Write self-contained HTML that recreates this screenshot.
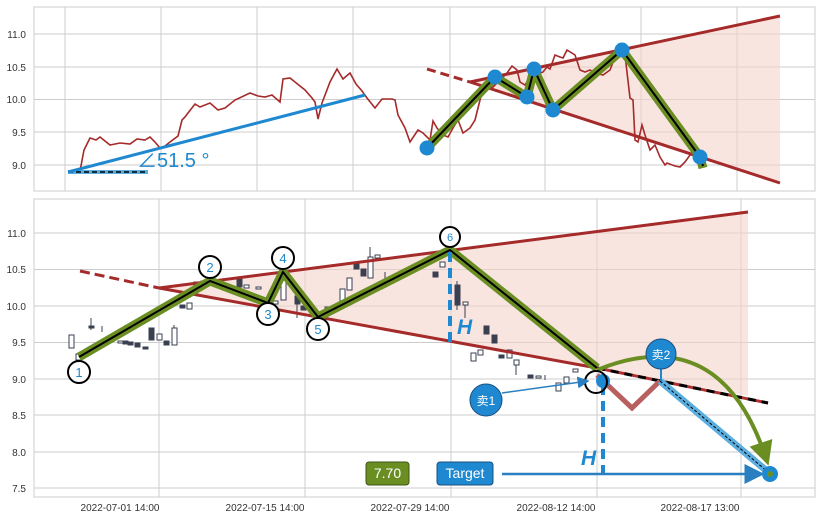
<!DOCTYPE html>
<html><head><meta charset="utf-8"><style>
body{margin:0;background:#fff;}
svg{display:block;font-family:"Liberation Sans","Noto Sans CJK SC",sans-serif;}
</style></head><body>
<svg width="822" height="520" viewBox="0 0 822 520" xmlns="http://www.w3.org/2000/svg">
<defs>
<marker id="ab" markerWidth="8" markerHeight="8" refX="7" refY="4" orient="auto"><path d="M0,0 L8,4 L0,8 z" fill="#2a7fc0"/></marker>
<marker id="ag" markerWidth="6" markerHeight="6" refX="4" refY="3" orient="auto"><path d="M0,0 L6,3 L0,6 z" fill="#6b8e23"/></marker>
</defs>
<rect width="822" height="520" fill="#fff"/>
<!-- TOP PANEL -->
<g stroke="#cccccc" stroke-width="1">
<rect x="34" y="7" width="781" height="184" fill="#fff"/>
<line x1="65" y1="7" x2="65" y2="191"/><line x1="161" y1="7" x2="161" y2="191"/><line x1="257" y1="7" x2="257" y2="191"/><line x1="353" y1="7" x2="353" y2="191"/><line x1="450" y1="7" x2="450" y2="191"/><line x1="545" y1="7" x2="545" y2="191"/><line x1="641" y1="7" x2="641" y2="191"/><line x1="737" y1="7" x2="737" y2="191"/>
<line x1="34" y1="34" x2="815" y2="34"/><line x1="34" y1="67" x2="815" y2="67"/><line x1="34" y1="99.5" x2="815" y2="99.5"/><line x1="34" y1="132" x2="815" y2="132"/><line x1="34" y1="165" x2="815" y2="165"/>
</g>
<g font-size="10" fill="#333" text-anchor="end">
<text x="26" y="38">11.0</text><text x="26" y="71">10.5</text><text x="26" y="103">10.0</text><text x="26" y="136">9.5</text><text x="26" y="169">9.0</text>
</g>
<polygon points="470,82 780,16 780,183" fill="#f5d3cb" opacity="0.6"/>
<polyline fill="none" stroke="#a52a2a" stroke-width="1.6" points="68,172 80,171 84,150 90,138 96,140 100,137 110,145 120,143 130,144 137,139 145,140 150,137 155,142 160,148 165,146 170,142 178,136 182,120 185,117 188,113 195,104 200,107 210,103 218,110 225,108 235,100 250,93 258,96 265,97 272,95 280,102 283,79 290,78 295,82 305,90 312,98 315,102 318,119 322,103 330,82 337,69 343,79 350,73 356,84 362,91 367,98 375,108 382,99 392,99 395,100 398,115 405,128 410,142 418,130 423,133 430,140 433,121 437,128 443,135 448,137 453,128 458,120 463,133 470,128 475,120 480,100 484,85 488,83 492,88 500,80 507,73 512,66 517,70 520,82 525,85 530,77 535,75 543,72 547,67 550,69 555,55 560,57 563,58 567,50 575,55 580,70 585,72 590,70 595,73 603,75 610,70 615,57 618,55 622,52 625,55 630,98 633,100 635,140 638,142 642,125 645,135 650,150 655,145 660,157 665,165 667,163 675,166 680,167 685,162 690,155 700,155"/>
<line x1="68" y1="172" x2="148" y2="172" stroke="#5aaee0" stroke-width="4"/>
<line x1="68" y1="172" x2="148" y2="172" stroke="#000" stroke-width="1.5" stroke-dasharray="5,3"/>
<line x1="68" y1="172" x2="365" y2="95" stroke="#1e88d0" stroke-width="3"/>
<text x="137" y="167" font-size="20" fill="#1e88d0">∠51.5 °</text>
<line x1="427" y1="69" x2="470" y2="82" stroke="#a52a2a" stroke-width="3" stroke-dasharray="9,5"/>
<line x1="470" y1="82" x2="780" y2="16" stroke="#a52a2a" stroke-width="3"/>
<line x1="470" y1="82" x2="780" y2="183" stroke="#a52a2a" stroke-width="3"/>
<polyline fill="none" stroke="#6b8e23" stroke-width="9" stroke-linejoin="round" points="427,148 495,77 527,97 534,69 553,110 622,50 700,157 703,168"/>
<polyline fill="none" stroke="#000" stroke-width="2" points="427,148 495,77 527,97 534,69 553,110 622,50 700,157 703,166"/>
<g fill="#1e88d0"><circle cx="427" cy="148" r="7.5"/><circle cx="495" cy="77" r="7.5"/><circle cx="527" cy="97" r="7.5"/><circle cx="534" cy="69" r="7.5"/><circle cx="553" cy="110" r="7.5"/><circle cx="622" cy="50" r="7.5"/><circle cx="700" cy="157" r="7.5"/></g>
<!-- BOTTOM PANEL -->
<g stroke="#cccccc" stroke-width="1">
<rect x="34" y="199" width="781" height="298" fill="#fff"/>
<line x1="159" y1="199" x2="159" y2="497"/><line x1="305" y1="199" x2="305" y2="497"/><line x1="451" y1="199" x2="451" y2="497"/><line x1="597" y1="199" x2="597" y2="497"/><line x1="741" y1="199" x2="741" y2="497"/>
<line x1="34" y1="233" x2="815" y2="233"/><line x1="34" y1="269.5" x2="815" y2="269.5"/><line x1="34" y1="306" x2="815" y2="306"/><line x1="34" y1="342.5" x2="815" y2="342.5"/><line x1="34" y1="379" x2="815" y2="379"/><line x1="34" y1="415" x2="815" y2="415"/><line x1="34" y1="452" x2="815" y2="452"/><line x1="34" y1="488" x2="815" y2="488"/>
</g>
<g font-size="10" fill="#333" text-anchor="end">
<text x="26" y="237">11.0</text><text x="26" y="273">10.5</text><text x="26" y="310">10.0</text><text x="26" y="346">9.5</text><text x="26" y="383">9.0</text><text x="26" y="419">8.5</text><text x="26" y="456">8.0</text><text x="26" y="492">7.5</text>
</g>
<g font-size="10" fill="#333" text-anchor="middle">
<text x="120" y="511">2022-07-01 14:00</text><text x="265" y="511">2022-07-15 14:00</text><text x="410" y="511">2022-07-29 14:00</text><text x="556" y="511">2022-08-12 14:00</text><text x="700" y="511">2022-08-17 13:00</text>
</g>
<polygon points="159,288 748,212 748,396 597,368" fill="#f5d3cb" opacity="0.6"/>
<!-- candles -->
<g stroke="#3a4050" stroke-width="1" fill="#fff">
<rect x="69" y="335" width="5" height="13"/><rect x="76" y="354" width="5" height="6"/><rect x="89" y="326" width="5" height="2" fill="#3a4050"/><line x1="91" y1="318" x2="91" y2="330"/><line x1="102" y1="326" x2="102" y2="332"/>
<rect x="106" y="337" width="5" height="3"/><rect x="118" y="341" width="5" height="2"/><rect x="123" y="341" width="5" height="3" fill="#3a4050"/><rect x="128" y="342" width="5" height="3" fill="#3a4050"/><rect x="135" y="343" width="5" height="4" fill="#3a4050"/><rect x="143" y="347" width="5" height="2" fill="#3a4050"/>
<rect x="149" y="328" width="5" height="12" fill="#3a4050"/><rect x="157" y="334" width="5" height="6"/><rect x="164" y="341" width="5" height="4" fill="#3a4050"/><rect x="172" y="328" width="5" height="17"/><line x1="174" y1="325" x2="174" y2="328"/>
<rect x="180" y="305" width="5" height="3" fill="#3a4050"/><rect x="187" y="303" width="5" height="6"/><rect x="194" y="282" width="5" height="3"/><rect x="201" y="281" width="5" height="2"/>
<rect x="237" y="279" width="5" height="8" fill="#3a4050"/><rect x="244" y="285" width="5" height="3"/><rect x="256" y="287" width="5" height="2"/><rect x="273" y="301" width="5" height="3"/><rect x="281" y="280" width="5" height="20"/>
<rect x="295" y="296" width="5" height="8" fill="#3a4050"/><line x1="297" y1="290" x2="297" y2="318"/><rect x="301" y="306" width="5" height="4" fill="#3a4050"/><rect x="325" y="307" width="5" height="4"/>
<rect x="340" y="289" width="5" height="13"/><rect x="347" y="278" width="5" height="12"/><rect x="354" y="264" width="5" height="5" fill="#3a4050"/><rect x="361" y="269" width="5" height="7" fill="#3a4050"/><rect x="368" y="257" width="5" height="21"/><line x1="370" y1="247" x2="370" y2="257"/><rect x="375" y="255" width="5" height="3"/>
<line x1="385" y1="272" x2="385" y2="280"/><rect x="433" y="272" width="5" height="5" fill="#3a4050"/><rect x="440" y="262" width="5" height="5"/>
<rect x="455" y="285" width="5" height="20" fill="#3a4050"/><line x1="457" y1="281" x2="457" y2="310"/><rect x="463" y="302" width="5" height="3"/><line x1="465" y1="305" x2="465" y2="318"/>
<rect x="484" y="326" width="5" height="8" fill="#3a4050"/><rect x="492" y="335" width="5" height="8" fill="#3a4050"/><rect x="471" y="353" width="5" height="8"/><rect x="478" y="350" width="5" height="5"/><rect x="499" y="355" width="5" height="3" fill="#3a4050"/><rect x="507" y="350" width="5" height="8"/><rect x="514" y="360" width="5" height="5"/><line x1="516" y1="365" x2="516" y2="375"/>
<rect x="528" y="375" width="5" height="3" fill="#3a4050"/><rect x="536" y="376" width="5" height="2"/><line x1="545" y1="375" x2="545" y2="380"/><rect x="556" y="383" width="5" height="8"/><rect x="564" y="377" width="5" height="6"/><rect x="573" y="369" width="5" height="3"/>
</g>
<!-- lines -->
<line x1="80" y1="271" x2="159" y2="288" stroke="#a52a2a" stroke-width="3" stroke-dasharray="10,5"/>
<line x1="159" y1="288" x2="748" y2="212" stroke="#a52a2a" stroke-width="3"/>
<line x1="159" y1="288" x2="597" y2="368" stroke="#a52a2a" stroke-width="3"/>
<line x1="597" y1="368" x2="768" y2="403" stroke="#b03030" stroke-width="3"/>
<line x1="597" y1="368" x2="768" y2="403" stroke="#000" stroke-width="3" stroke-dasharray="8,6"/>
<polyline fill="none" stroke="#6b8e23" stroke-width="9" stroke-linejoin="round" points="79,357 210,281 268,303 283,272 318,317 450,250 597,368"/>
<polyline fill="none" stroke="#000" stroke-width="2" points="79,357 210,281 268,303 283,272 318,317 450,250 597,368"/>
<polyline fill="none" stroke="#b86060" stroke-width="5" points="597,375 632,408 660,381"/>
<line x1="660" y1="381" x2="768" y2="472" stroke="#5aaee0" stroke-width="7"/>
<line x1="660" y1="381" x2="768" y2="472" stroke="#000" stroke-width="1" stroke-dasharray="3,2"/>
<path d="M597,370 Q720,320 766,458" fill="none" stroke="#6b8e23" stroke-width="4" marker-end="url(#ag)"/>
<line x1="450" y1="252" x2="450" y2="342" stroke="#1e88d0" stroke-width="4" stroke-dasharray="10,6"/>
<line x1="603" y1="385" x2="603" y2="474" stroke="#1e88d0" stroke-width="4" stroke-dasharray="10,6"/>
<text x="457" y="334" font-size="21" font-weight="bold" font-style="italic" fill="#1e88d0">H</text>
<text x="581" y="465" font-size="21" font-weight="bold" font-style="italic" fill="#1e88d0">H</text>
<line x1="502" y1="474" x2="762" y2="474" stroke="#2a7fc0" stroke-width="2.5" marker-end="url(#ab)"/>
<circle cx="770" cy="474" r="8" fill="#1e88d0"/><circle cx="770" cy="474" r="3" fill="#6b8e23"/>
<rect x="437" y="462" width="56" height="23" rx="3" fill="#1e88d0" stroke="#1a4f80"/>
<text x="465" y="478" font-size="14" fill="#fff" text-anchor="middle">Target</text>
<rect x="366" y="462" width="43" height="23" rx="3" fill="#6b8e23" stroke="#3d5514"/>
<text x="387.5" y="478" font-size="14" fill="#fff" text-anchor="middle">7.70</text>
<!-- circles -->
<g fill="#fff" stroke="#000" stroke-width="2">
<circle cx="79" cy="372" r="11"/><circle cx="210" cy="267" r="11"/><circle cx="268" cy="314" r="11"/><circle cx="283" cy="258" r="11"/><circle cx="318" cy="329" r="11"/><circle cx="450" cy="237" r="10"/>
</g>
<g font-size="13" fill="#1e88d0" text-anchor="middle">
<text x="79" y="377">1</text><text x="210" y="272">2</text><text x="268" y="319">3</text><text x="283" y="263">4</text><text x="318" y="334">5</text><text x="450" y="241" font-size="11">6</text>
</g>
<circle cx="603" cy="381" r="7" fill="#1e88d0"/>
<circle cx="596" cy="382" r="11" fill="none" stroke="#000" stroke-width="2"/>
<line x1="502" y1="393" x2="588" y2="381" stroke="#2a7fc0" stroke-width="1.5" marker-end="url(#ab)"/>
<circle cx="486" cy="400" r="16" fill="#1e88d0" stroke="#1a4f80"/>
<text x="486" y="405" font-size="12" fill="#fff" text-anchor="middle">卖1</text>
<line x1="661" y1="368" x2="661" y2="381" stroke="#1e88d0" stroke-width="2"/>
<circle cx="661" cy="354" r="15" fill="#1e88d0" stroke="#1a4f80"/>
<text x="661" y="359" font-size="12" fill="#fff" text-anchor="middle">卖2</text>
</svg>
</body></html>
